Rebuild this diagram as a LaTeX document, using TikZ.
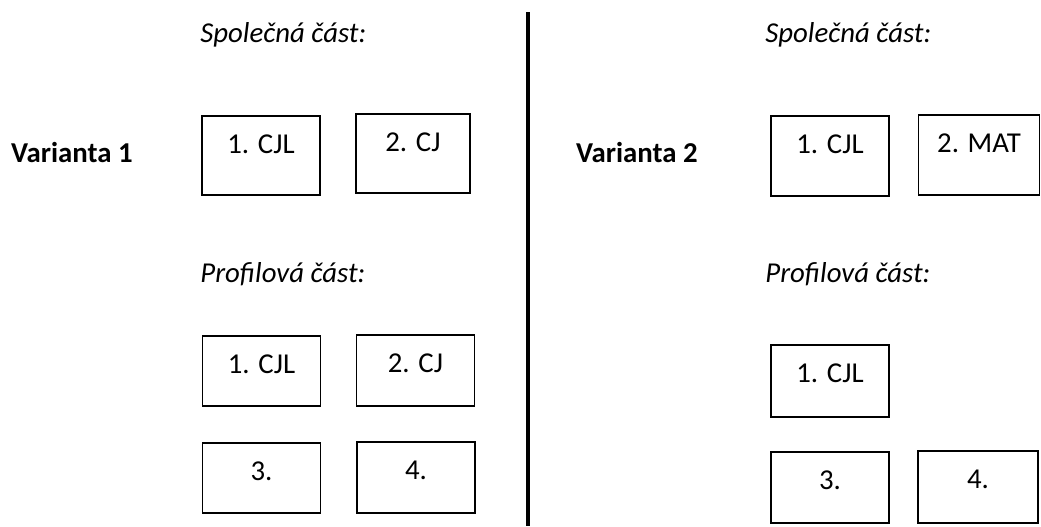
\documentclass[tikz,border=0pt]{standalone}
\usepackage{fontspec}
\setmainfont{Carlito}
\usetikzlibrary{positioning}

\tikzset{
  subj/.style={draw, line width=0.8pt, inner sep=0pt, anchor=north,
    minimum width=59pt, text height=19pt, text depth=#1},
  subj/.default=20.5pt,
  part/.style={anchor=base west, inner sep=0pt, font=\fontsize{14.4}{17}\selectfont\itshape},
  variant/.style={anchor=base east, inner sep=0pt, font=\fontsize{14.4}{17}\selectfont\bfseries}
}

\begin{document}
\begin{tikzpicture}[x=0.5pt, y=-0.5pt, font=\fontsize{14.4}{17}\selectfont]
    \useasboundingbox (0,0) rectangle (1041,526);

    % varianta 1
    \node[variant] (v1) at (133,162) {Varianta 1};
    \node[part] (s1) at (200,42) {Společná část:};
    \node[subj] (s1a) at (261,115) {1. CJL};
    \node[subj, minimum width=57pt] (s1b) at (413,113) {2. CJ};
    \node[part] (p1) at (200,282) {Profilová část:};
    \node[subj, text depth=16pt] (p1a) at (261.5,335) {1. CJL};
    \node[subj, text depth=16.5pt] (p1b) at (415.5,334) {2. CJ};
    \node[subj, text depth=16pt] (p1c) at (261.5,442) {3.};
    \node[subj, text depth=16.5pt] (p1d) at (416,441) {4.};

    % delici cara
    \coordinate (top) at (528,12);
    \coordinate (bot) at (528,526);
    \draw[line width=2pt] (top) -- (bot);

    % varianta 2
    \node[variant] (v2) at (698,162) {Varianta 2};
    \node[part] (s2) at (765,42) {Společná část:};
    \node[subj, text depth=21pt] (s2a) at (830,115) {1. CJL};
    \node[subj, minimum width=60.5pt, text depth=21pt] (s2b) at (979,114) {2. MAT};
    \node[part] (p2) at (765,282) {Profilová část:};
    \node[subj, text depth=17pt] (p2a) at (830,344) {1. CJL};
    \node[subj, text depth=16.5pt] (p2c) at (830,451) {3.};
    \node[subj, minimum width=60pt, text depth=17pt] (p2d) at (978,450) {4.};
\end{tikzpicture}
\end{document}
